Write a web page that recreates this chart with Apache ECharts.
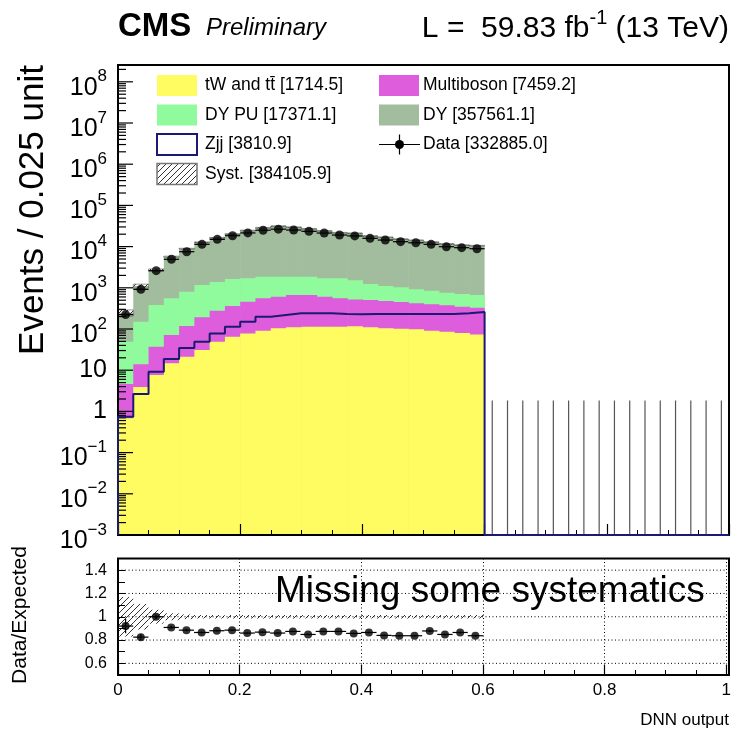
<!DOCTYPE html>
<html>
<head>
<meta charset="utf-8">
<script src="https://cdn.jsdelivr.net/npm/echarts@6/dist/echarts.min.js"></script>
<style>
html, body { margin: 0; padding: 0; background: #fff; }
#main { width: 734px; height: 734px; }
</style>
</head>
<body>
<div id="main"></div>
<script>
// ---- values (bins of 0.025 in DNN output) ----
var binWidth = 0.025;
var nBins = 40;
var twTT       = [0.68, 3.93, 7.7, 14.7, 21.3, 30.9, 49.2, 65, 78, 91, 104, 110, 113, 114, 114, 117, 110, 105, 102, 98, 91, 86, 80, 74];
var multiboson = [3.94, 10, 29.5, 56.7, 97, 161, 229, 297, 382, 466, 503, 559, 556, 494, 443, 403, 396, 373, 349, 323, 306, 290, 267, 255];
var dyPU       = [44.6, 136, 345, 485, 686, 977, 1104, 1274, 1242, 1303, 1251, 1190, 1190, 1095, 1146, 1009, 734, 628, 576, 498, 453, 384, 358, 340];
var dy         = [199, 955, 2323, 5128, 8121, 11618, 15082, 18693, 22953, 26958, 29638, 27813, 25304, 22497, 20105, 19594, 16929, 15811, 14301, 13388, 12095, 10881, 10200, 9897];
var zjj        = [0.745, 2.65, 9.2, 18.7, 34.5, 49.2, 78, 113, 150, 199, 219, 241, 241, 241, 231, 228, 231, 231, 231, 231, 231, 231, 241, 258];
var dataCounts = [224, 919, 2604, 4918, 7513, 11358, 14987, 18395, 21466, 24995, 26477, 25224, 23514, 21351, 19077, 18169, 15896, 14420, 13172, 12378, 11358, 9943, 9411, 8891,
                  0, 0, 0, 0, 0, 0, 0, 0, 0, 0, 0, 0, 0, 0, 0, 0];
var ratioValues = [0.92, 0.825, 1.0, 0.908, 0.885, 0.865, 0.88, 0.885, 0.86, 0.868, 0.86, 0.874, 0.848, 0.874, 0.874, 0.857, 0.865, 0.84, 0.837, 0.837, 0.878, 0.848, 0.865, 0.837];
var systRel    = [0.17, 0.11, 0.06, 0.03, 0.02, 0.015, 0.015, 0.015, 0.015, 0.015, 0.015, 0.015, 0.015, 0.015, 0.015, 0.015, 0.015, 0.015, 0.015, 0.015, 0.015, 0.015, 0.015, 0.015];
var ratioGridValues = [0.6, 0.8, 1.0, 1.2, 1.4];
var yLabelPowers = [-3, -2, -1, 0, 1, 2, 3, 4, 5, 6, 7, 8];
var zeroUpper = 1.841; // Garwood upper limit for an empty bin

var legendRows = [
    ['tW and t\u0074\u0304 [1714.5]', 'Multiboson [7459.2]'],
    ['DY PU [17371.1]', 'DY [357561.1]'],
    ['Zjj [3810.9]', 'Data [332885.0]'],
    ['Syst. [384105.9]', null]
];

var colTw = '#fffc62', colMb = '#dd5ddd', colPu = '#8ffb9c', colDy = '#a2bd9d', colZjj = '#1a1a72';
var FONT = '"Liberation Sans", Arial, sans-serif';
var baseFont = '25px ' + FONT, supFont = '17px ' + FONT;

var L = 118, W = 611, T1 = 65, H1 = 470, T2 = 558.5, H2 = 116.5;
var Y_MIN = -3, Y_MAX = 8.408;

function lg(v) { return v > 0 ? Math.log10(v) : Y_MIN; }

var measureCtx = document.createElement('canvas').getContext('2d');
function textWidth(t, font) { measureCtx.font = font; return measureCtx.measureText(t).width; }

// hatch pattern (ROOT 3004 style)
var hatch = document.createElement('canvas');
hatch.width = 6; hatch.height = 6;
var hc = hatch.getContext('2d');
hc.strokeStyle = '#333'; hc.lineWidth = 1;
hc.beginPath();
hc.moveTo(0, 6); hc.lineTo(6, 0);
hc.moveTo(-1, 1); hc.lineTo(1, -1);
hc.moveTo(5, 7); hc.lineTo(7, 5);
hc.stroke();
var hatchFill = { image: hatch, repeat: 'repeat' };

// cumulative stack
var cumTw = [], cumMb = [], cumPu = [], cumAll = [];
for (var i = 0; i < twTT.length; i++) {
    var a = twTT[i], b = a + multiboson[i], c = b + dyPU[i], d = c + dy[i];
    cumTw.push([i * binWidth, lg(a)]);
    cumMb.push([i * binWidth, lg(b)]);
    cumPu.push([i * binWidth, lg(c)]);
    cumAll.push([i * binWidth, lg(d)]);
}

var systMain = [], systRatio = [];
for (var i = 0; i < twTT.length; i++) {
    var tot = twTT[i] + multiboson[i] + dyPU[i] + dy[i];
    systMain.push([i * binWidth, lg(tot * (1 - systRel[i])), lg(tot * (1 + systRel[i]))]);
    systRatio.push([i * binWidth, 1 - systRel[i], 1 + systRel[i]]);
}

var zjjLine = [[0, Y_MIN]];
for (var i = 0; i < nBins; i++) {
    zjjLine.push([i * binWidth, lg(i < zjj.length ? zjj[i] : 0)]);
}
zjjLine.push([1, Y_MIN]);

var dataPts = [], dataBars = [], zeroBars = [];
for (var i = 0; i < nBins; i++) {
    var n = dataCounts[i], xc = (i + 0.5) * binWidth;
    if (n > 0) {
        dataPts.push([xc, lg(n)]);
        dataBars.push([xc, lg(n), lg(n - Math.sqrt(n)), lg(n + Math.sqrt(n))]);
    } else {
        zeroBars.push([xc, Y_MIN, lg(zeroUpper)]);
    }
}

var ratioPts = [], ratioBars = [];
for (var i = 0; i < ratioValues.length; i++) {
    var r = ratioValues[i], xc = (i + 0.5) * binWidth, e = r / Math.sqrt(dataCounts[i]);
    ratioPts.push([xc, r]);
    ratioBars.push([xc, r, r - e, r + e]);
}

var yTicks = [];
for (var p = -3; p <= 8; p++) {
    yTicks.push([p, 1]);
    for (var k = 2; k <= 9; k++) {
        var lv = p + Math.log10(k);
        if (lv < Y_MAX) yTicks.push([lv, 0]);
    }
}

function fillItem(color) {
    return function (params, api) {
        var x0 = api.value(0);
        var p1 = api.coord([x0, api.value(1)]);
        var p2 = api.coord([x0 + binWidth, Y_MIN]);
        var extra = x0 + binWidth < 0.599 ? 0.6 : 0;
        return {
            type: 'rect',
            shape: { x: p1[0], y: p1[1], width: p2[0] - p1[0] + extra, height: p2[1] - p1[1] },
            style: { fill: color }
        };
    };
}

function bandItem(withStroke) {
    return function (params, api) {
        var x0 = api.value(0);
        var p1 = api.coord([x0, api.value(2)]);
        var p2 = api.coord([x0 + binWidth, api.value(1)]);
        var style = { fill: hatchFill };
        if (withStroke) { style.stroke = '#555'; style.lineWidth = 0.6; }
        return {
            type: 'rect',
            shape: { x: p1[0], y: p1[1], width: p2[0] - p1[0], height: Math.max(p2[1] - p1[1], 0.8) },
            style: style
        };
    };
}

function errItem(color) {
    return function (params, api) {
        var xc = api.value(0);
        var lo = api.coord([xc, api.value(2)]), hi = api.coord([xc, api.value(3)]);
        var l = api.coord([xc - binWidth / 2, api.value(1)]), rr = api.coord([xc + binWidth / 2, api.value(1)]);
        return { type: 'group', children: [
            { type: 'line', shape: { x1: lo[0], y1: lo[1], x2: hi[0], y2: hi[1] }, style: { stroke: color, lineWidth: 1.2 } },
            { type: 'line', shape: { x1: l[0], y1: l[1], x2: rr[0], y2: rr[1] }, style: { stroke: color, lineWidth: 1.2 } }
        ] };
    };
}

function zeroItem(params, api) {
    var xc = api.value(0);
    var lo = api.coord([xc, api.value(1)]), hi = api.coord([xc, api.value(2)]);
    return { type: 'line', shape: { x1: lo[0], y1: lo[1], x2: hi[0], y2: hi[1] }, style: { stroke: '#555', lineWidth: 1.2 } };
}

function tickItem(params, api) {
    var p = api.coord([0, api.value(0)]);
    var len = api.value(1) ? 15 : 8;
    return { type: 'line', shape: { x1: p[0], y1: p[1], x2: p[0] + len, y2: p[1] }, style: { stroke: '#000', lineWidth: 1.2 } };
}

function yLabelItem(params, api) {
    var pw = api.value(0);
    var pt = api.coord([0, pw]);
    var xr = pt[0] - 11;
    if (pw === 0 || pw === 1) {
        return { type: 'text', x: xr, y: pt[1], style: { text: pw === 0 ? '1' : '10', font: baseFont, fill: '#000', align: 'right', verticalAlign: 'middle' } };
    }
    var sup = pw < 0 ? '\u2212' + (-pw) : String(pw);
    var sw = textWidth(sup, supFont);
    return { type: 'group', children: [
        { type: 'text', x: xr - sw, y: pt[1] + 6, style: { text: '10', font: baseFont, fill: '#000', align: 'right', verticalAlign: 'middle' } },
        { type: 'text', x: xr - sw, y: pt[1] - 5, style: { text: sup, font: supFont, fill: '#000', align: 'left', verticalAlign: 'middle' } }
    ] };
}

function gridLineItem(params, api) {
    var a = api.coord([0, api.value(0)]), b = api.coord([1, api.value(0)]);
    return { type: 'line', shape: { x1: a[0], y1: a[1], x2: b[0], y2: b[1] }, style: { stroke: '#000', lineWidth: 1, lineDash: [1, 2.5] } };
}

// ---- legend graphics ----
var legendEls = [];
var rowY = [85.5, 115, 144.5, 174];
var boxX = [157, 379], txtX = [205, 423];
var boxStyles = [
    [{ fill: colTw }, { fill: colMb }],
    [{ fill: colPu }, { fill: colDy }],
    [{ fill: '#fff', stroke: colZjj, lineWidth: 2 }, null],
    [{ fill: hatchFill, stroke: '#777', lineWidth: 1.5 }, null]
];
for (var r = 0; r < legendRows.length; r++) {
    for (var c = 0; c < 2; c++) {
        if (!legendRows[r][c]) continue;
        if (boxStyles[r][c]) {
            legendEls.push({ type: 'rect', shape: { x: boxX[c], y: rowY[r] - 10.5, width: 40, height: 21 }, style: boxStyles[r][c], z: 100 });
        } else {
            legendEls.push({ type: 'line', shape: { x1: boxX[c], y1: rowY[r], x2: boxX[c] + 41, y2: rowY[r] }, style: { stroke: '#000', lineWidth: 1.2 }, z: 100 });
            legendEls.push({ type: 'line', shape: { x1: boxX[c] + 20.5, y1: rowY[r] - 10, x2: boxX[c] + 20.5, y2: rowY[r] + 10 }, style: { stroke: '#000', lineWidth: 1.2 }, z: 100 });
            legendEls.push({ type: 'circle', shape: { cx: boxX[c] + 20.5, cy: rowY[r], r: 4.5 }, style: { fill: '#000' }, z: 100 });
        }
        legendEls.push({ type: 'text', x: txtX[c], y: rowY[r], style: { text: legendRows[r][c], font: '17.5px ' + FONT, fill: '#000', align: 'left', verticalAlign: 'middle' }, z: 100 });
    }
}

// luminosity label: base text + superscript + tail, right aligned at x = 729
var lumiFont = '30px ' + FONT, lumiSupFont = '20px ' + FONT;
var lumiTail = ' (13 TeV)', lumiSup = '-1', lumiHead = 'L =  59.83 fb';
var wTail = textWidth(lumiTail, lumiFont), wSup = textWidth(lumiSup, lumiSupFont);

var chart = echarts.init(document.getElementById('main'));

var option = {
    animation: false,
    backgroundColor: '#fff',
    grid: [
        { left: L, top: T1, width: W, height: H1 },
        { left: L, top: T2, width: W, height: H2 }
    ],
    xAxis: [
        {
            gridIndex: 0, type: 'value', min: 0, max: 1, interval: 0.2,
            axisLine: { show: false, onZero: false },
            axisLabel: { show: false },
            axisTick: { show: true, inside: true, length: 11, lineStyle: { color: '#000', width: 1.2 } },
            minorTick: { show: true, splitNumber: 4, length: 5, lineStyle: { color: '#000', width: 1 } },
            splitLine: { show: false }, z: 10
        },
        {
            gridIndex: 1, type: 'value', min: 0, max: 1, interval: 0.2,
            axisLine: { show: false, onZero: false },
            axisLabel: { show: true, margin: 7, fontSize: 17, fontFamily: FONT, color: '#000' },
            axisTick: { show: true, inside: true, length: 10, lineStyle: { color: '#000', width: 1.2 } },
            minorTick: { show: true, splitNumber: 4, length: 5, lineStyle: { color: '#000', width: 1 } },
            splitLine: { show: true, lineStyle: { color: '#000', width: 1, type: [1, 2.5] } }, z: 10
        }
    ],
    yAxis: [
        {
            gridIndex: 0, type: 'value', min: Y_MIN, max: Y_MAX, interval: 1,
            axisLine: { show: false, onZero: false },
            axisTick: { show: false },
            splitLine: { show: false },
            axisLabel: { show: false }
        },
        {
            gridIndex: 1, type: 'value', min: 0.5, max: 1.5, interval: 0.1,
            axisLine: { show: false, onZero: false },
            splitLine: { show: false },
            axisTick: { show: true, inside: true, length: 7, lineStyle: { color: '#000', width: 1 } },
            axisLabel: {
                show: true, margin: 11, fontSize: 16, fontFamily: FONT, color: '#000',
                showMinLabel: false, showMaxLabel: false,
                formatter: function (v) {
                    var t = Math.round(v * 10);
                    if (t % 2 !== 0) return '';
                    return t === 10 ? '1' : (t / 10).toFixed(1);
                }
            }, z: 10
        }
    ],
    graphic: [
        { type: 'rect', shape: { x: L, y: T1, width: W, height: H1 }, style: { fill: 'none', stroke: '#000', lineWidth: 2 }, z: 100 },
        { type: 'rect', shape: { x: L, y: T2, width: W, height: H2 }, style: { fill: 'none', stroke: '#000', lineWidth: 2 }, z: 100 },
        { type: 'text', x: 118, y: 27, style: { text: 'CMS', font: 'bold 33px ' + FONT, fill: '#000', align: 'left', verticalAlign: 'middle' }, z: 100 },
        { type: 'text', x: 206, y: 28, style: { text: 'Preliminary', font: 'italic 24px ' + FONT, fill: '#000', align: 'left', verticalAlign: 'middle' }, z: 100 },
        { type: 'text', x: 729 - wTail - wSup, y: 29, style: { text: lumiHead, font: lumiFont, fill: '#000', align: 'right', verticalAlign: 'middle' }, z: 100 },
        { type: 'text', x: 729 - wTail - wSup, y: 18, style: { text: lumiSup, font: lumiSupFont, fill: '#000', align: 'left', verticalAlign: 'middle' }, z: 100 },
        { type: 'text', x: 729, y: 29, style: { text: lumiTail, font: lumiFont, fill: '#000', align: 'right', verticalAlign: 'middle' }, z: 100 },
        { type: 'text', x: 33, y: 210, rotation: Math.PI / 2, style: { text: 'Events / 0.025 unit', font: '35px ' + FONT, fill: '#000', align: 'center', verticalAlign: 'middle' }, z: 100 },
        { type: 'text', x: 20, y: 615, rotation: Math.PI / 2, style: { text: 'Data/Expected', font: '21px ' + FONT, fill: '#000', align: 'center', verticalAlign: 'middle' }, z: 100 },
        { type: 'text', x: 729, y: 720, style: { text: 'DNN output', font: '17px ' + FONT, fill: '#000', align: 'right', verticalAlign: 'middle' }, z: 100 },
        { type: 'text', x: 275, y: 592, style: { text: 'Missing some systematics', font: '37px ' + FONT, fill: '#000', align: 'left', verticalAlign: 'middle' }, z: 100 }
    ].concat(legendEls),
    series: [
        { name: 'DY', type: 'custom', xAxisIndex: 0, yAxisIndex: 0, data: cumAll, renderItem: fillItem(colDy), z: 2 },
        { name: 'DY PU', type: 'custom', xAxisIndex: 0, yAxisIndex: 0, data: cumPu, renderItem: fillItem(colPu), z: 2 },
        { name: 'Multiboson', type: 'custom', xAxisIndex: 0, yAxisIndex: 0, data: cumMb, renderItem: fillItem(colMb), z: 2 },
        { name: 'tW and tt', type: 'custom', xAxisIndex: 0, yAxisIndex: 0, data: cumTw, renderItem: fillItem(colTw), z: 2 },
        { name: 'Syst.', type: 'custom', xAxisIndex: 0, yAxisIndex: 0, data: systMain, renderItem: bandItem(true), z: 3 },
        {
            name: 'Zjj', type: 'line', xAxisIndex: 0, yAxisIndex: 0, data: zjjLine, step: 'end', clip: false,
            showSymbol: false, symbol: 'none', lineStyle: { color: colZjj, width: 2 }, z: 101
        },
        { name: 'Data err', type: 'custom', xAxisIndex: 0, yAxisIndex: 0, data: dataBars, renderItem: errItem('#000'), z: 5 },
        { name: 'Data zero', type: 'custom', xAxisIndex: 0, yAxisIndex: 0, data: zeroBars, renderItem: zeroItem, z: 5 },
        { name: 'Data', type: 'scatter', xAxisIndex: 0, yAxisIndex: 0, data: dataPts, symbol: 'circle', symbolSize: 9, itemStyle: { color: '#000' }, z: 102 },
        { name: 'yticks', type: 'custom', xAxisIndex: 0, yAxisIndex: 0, data: yTicks, renderItem: tickItem, z: 7 },
        { name: 'ylabels', type: 'custom', xAxisIndex: 0, yAxisIndex: 0, data: yLabelPowers.map(function (p) { return [p]; }), renderItem: yLabelItem, z: 7 },
        { name: 'ratio grid', type: 'custom', xAxisIndex: 1, yAxisIndex: 1, data: ratioGridValues, renderItem: gridLineItem, z: 3 },
        { name: 'ratio syst', type: 'custom', xAxisIndex: 1, yAxisIndex: 1, data: systRatio, renderItem: bandItem(false), z: 2 },
        { name: 'ratio err', type: 'custom', xAxisIndex: 1, yAxisIndex: 1, data: ratioBars, renderItem: errItem('#000'), z: 5 },
        { name: 'ratio', type: 'scatter', xAxisIndex: 1, yAxisIndex: 1, data: ratioPts, symbol: 'circle', symbolSize: 8, itemStyle: { color: '#000' }, z: 6 }
    ]
};

chart.setOption(option);
</script>
</body>
</html>
